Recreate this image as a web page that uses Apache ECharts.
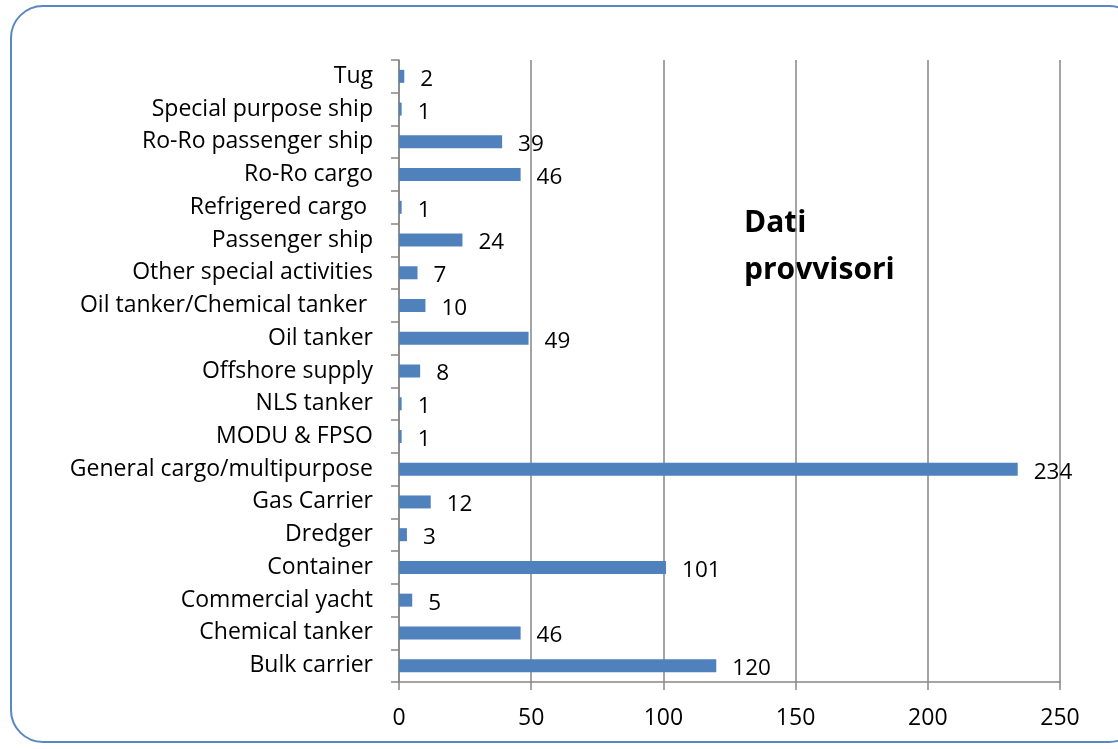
<!DOCTYPE html>
<html>
<head>
<meta charset="utf-8">
<script src="https://cdn.jsdelivr.net/npm/echarts@6/dist/echarts.min.js"></script>
<style>html,body{margin:0;padding:0;background:#fff;}#c{width:1118px;height:749px;}</style>
</head>
<body>
<div id="c"></div>
<script>
const categories = ["Bulk carrier","Chemical tanker","Commercial yacht","Container","Dredger","Gas Carrier","General cargo/multipurpose","MODU & FPSO","NLS tanker","Offshore supply","Oil tanker","Oil tanker/Chemical tanker ","Other special activities","Passenger ship","Refrigered cargo ","Ro-Ro cargo","Ro-Ro passenger ship","Special purpose ship","Tug"];
const values = [120,46,5,101,3,12,234,1,1,8,49,10,7,24,1,46,39,1,2];
const xTicks = {min:0, max:250, interval:50};
const note = ["Dati","provvisori"];

const chart = echarts.init(document.getElementById('c'));
const font = "'Open Sans', 'Noto Sans', sans-serif";
chart.setOption({
  animation:false,
  backgroundColor:'#fff',
  grid:{left:399, right:58, top:60, bottom:67},
  xAxis:{type:'value', min:xTicks.min, max:xTicks.max, interval:xTicks.interval,
    axisLine:{show:true, lineStyle:{color:'#868686', width:1.5}},
    axisTick:{show:true, length:8, lineStyle:{color:'#868686', width:1.5}},
    axisLabel:{fontSize:23, color:'#000', fontFamily:font, margin:25},
    splitLine:{show:true, lineStyle:{color:'#868686', width:1.5}}},
  yAxis:{type:'category', data:categories,
    axisLine:{show:true, lineStyle:{color:'#868686', width:1.5}},
    axisTick:{show:true, length:8, lineStyle:{color:'#868686', width:1.5}},
    axisLabel:{fontSize:23, color:'#000', fontFamily:font, margin:26}},
  series:[{type:'bar', data:values, barWidth:13, itemStyle:{color:'#4F81BD'},
    label:{show:true, position:'right', distance:16, fontSize:22.5, color:'#000', fontFamily:font, offset:[0,3]}}],
  graphic:[
    {type:'rect', silent:true, z:-1, shape:{x:11, y:6, width:1130, height:736, r:32},
      style:{fill:'none', stroke:'#5B87C2', lineWidth:2}},
    {type:'text', left:744, top:208, style:{text:note[0], font:"bold 30px 'Open Sans', sans-serif", fill:'#000'}},
    {type:'text', left:744, top:255, style:{text:note[1], font:"bold 30px 'Open Sans', sans-serif", fill:'#000'}}
  ]
});
</script>
</body>
</html>
